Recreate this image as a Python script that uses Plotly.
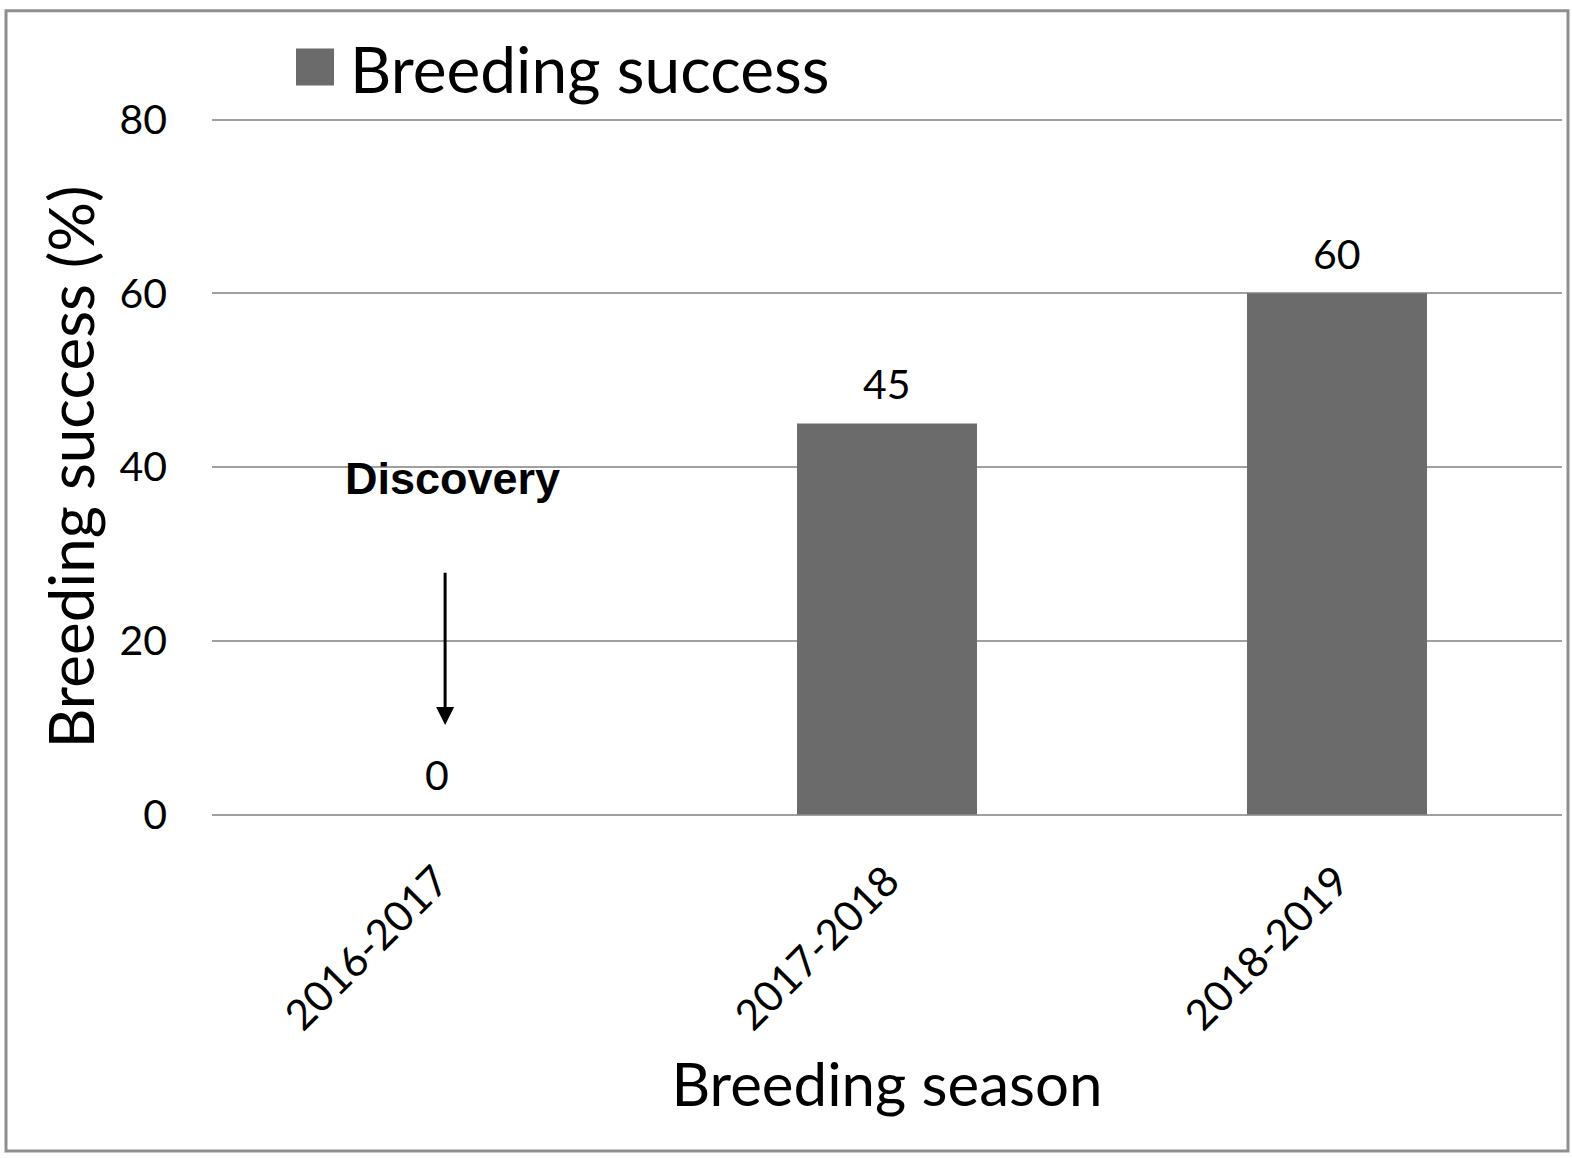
import plotly.graph_objects as go

seasons = ["2016-2017", "2017-2018", "2018-2019"]
success = [0, 45, 60]
y_ticks = [0, 20, 40, 60, 80]

W, H = 1572, 1158
PAD = 2.5  # px of padding so the 0 and 80 gridlines are drawn
PLOT_TOP, PLOT_BOT, PLOT_L, PLOT_R = 119, 815, 212, 1562
L, R = PLOT_L, W - PLOT_R
T, B = PLOT_TOP - PAD, H - PLOT_BOT - PAD
PW, PH = W - L - R, H - T - B
YPAD = PAD * (y_ticks[-1] - y_ticks[0]) / (PLOT_BOT - PLOT_TOP)

def px(x):
    return (x - L) / PW

def py(y):
    return (H - B - y) / PH

FONT = "Lato"
BAR = "#6b6b6b"
GRID = "#a0a0a0"

fig = go.Figure()
fig.add_trace(go.Bar(
    x=seasons, y=success, marker=dict(color=BAR, line=dict(width=0)),
    name="Breeding success", showlegend=False,
))

for s, v in zip(seasons, success):
    fig.add_annotation(x=s, y=v, text=str(v), showarrow=False, yshift=40,
                       font=dict(family=FONT, size=41, color="black"))

# Discovery marker
fig.add_annotation(x=0.035, y=38.7, xref="x", yref="y", text="<b>Discovery</b>", showarrow=False,
                   font=dict(family="Liberation Sans", size=45, color="black"))
fig.add_annotation(x=0.018, y=10.3, ax=0.018, ay=28, xref="x", yref="y", axref="x", ayref="y",
                   text="", showarrow=True, arrowhead=2, arrowsize=1.2, arrowwidth=3, arrowcolor="black")

# legend (manual)
fig.add_shape(type="rect", xref="paper", yref="paper",
              x0=px(296), x1=px(334), y0=py(85), y1=py(48),
              fillcolor=BAR, line=dict(width=0))
fig.add_annotation(xref="paper", yref="paper", x=px(348), y=py(68), xanchor="left", yanchor="middle",
                   text="Breeding success", showarrow=False,
                   font=dict(family=FONT, size=64, color="black"))

# outer border
fig.add_shape(type="rect", xref="paper", yref="paper",
              x0=px(6), x1=px(1568), y0=py(1152), y1=py(10),
              line=dict(color="#8f8f8f", width=3), fillcolor="rgba(0,0,0,0)", layer="below")

fig.update_layout(
    width=W, height=H,
    margin=dict(l=L, r=R, t=T, b=B, autoexpand=False),
    paper_bgcolor="white", plot_bgcolor="white",
    bargap=0.6,
    font=dict(family=FONT, color="black"),
    xaxis=dict(
        type="category", tickangle=-45, tickfont=dict(size=42, family=FONT),
        showline=False, ticks="", ticklabelstandoff=30,
        title=dict(text="Breeding season", font=dict(size=60, family=FONT), standoff=25),
        automargin=False,
    ),
    yaxis=dict(
        range=[y_ticks[0] - YPAD, y_ticks[-1] + YPAD], tickvals=y_ticks, tickfont=dict(size=41, family=FONT),
        showgrid=True, gridcolor=GRID, gridwidth=2, zeroline=False, showline=False,
        ticks="", ticklabelstandoff=44,
        title=dict(text="Breeding success (%)", font=dict(size=62, family=FONT), standoff=4),
        automargin=False,
    ),
)

fig.write_html("out.html", config={"displayModeBar": False},
               post_script="document.body.style.margin='0';document.body.style.overflow='hidden';")
